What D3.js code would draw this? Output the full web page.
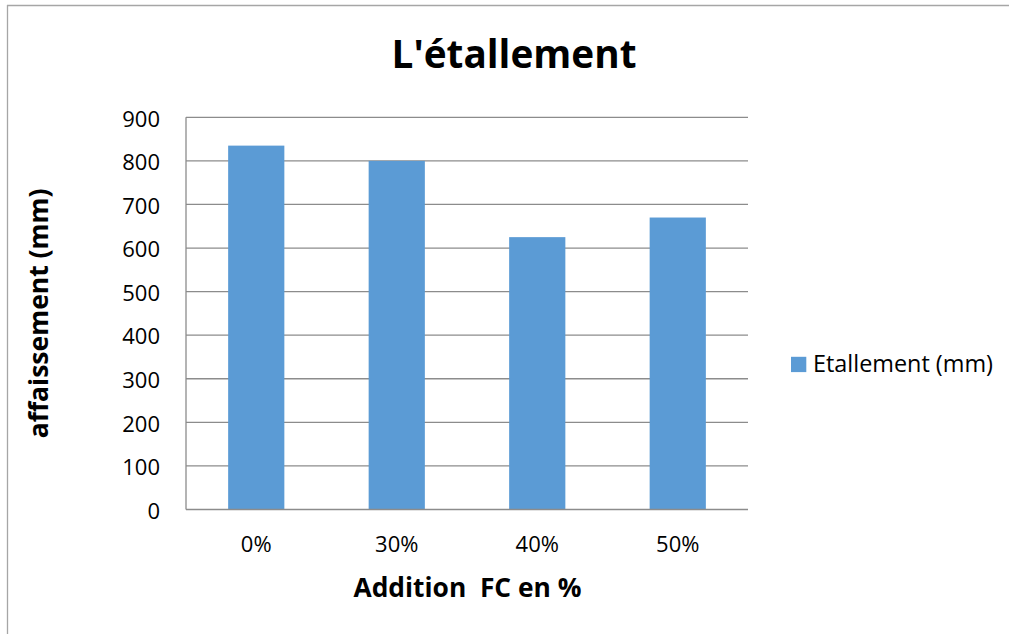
<!DOCTYPE html>
<html>
<head>
<meta charset="utf-8">
<script src="https://cdn.jsdelivr.net/npm/d3@7"></script>
<style>
  html, body { margin: 0; padding: 0; background: #fff; }
  svg { display: block; font-family: "Open Sans", "Liberation Sans", sans-serif; }
</style>
</head>
<body>
<svg id="chart" width="1009" height="634"></svg>
<script>
const categories = ["0%", "30%", "40%", "50%"];
const values = [835, 800, 625, 670];
const yTicks = [0, 100, 200, 300, 400, 500, 600, 700, 800, 900];
const seriesName = "Etallement (mm)";
const titleText = "L'étallement";
const xTitle = "Addition  FC en %";
const yTitle = "affaissement (mm)";

const svg = d3.select("#chart");
const W = 1009, H = 634;
const plot = { left: 186, right: 748, top: 117.3, bottom: 509.5 };

function fit(sel, target, base) {
  sel.style("font-size", base + "px");
  const w = sel.node().getComputedTextLength();
  sel.style("font-size", (base * target / w).toFixed(2) + "px");
}

// outer frame (top and left visible)
svg.append("line").attr("x1", 7).attr("x2", W).attr("y1", 5.5).attr("y2", 5.5)
  .attr("stroke", "#a6a6a6").attr("stroke-width", 1.3);
svg.append("line").attr("x1", 7.5).attr("x2", 7.5).attr("y1", 5).attr("y2", H)
  .attr("stroke", "#a6a6a6").attr("stroke-width", 1.3);

const x = d3.scaleBand().domain(categories).range([plot.left, plot.right])
  .paddingInner(0.6).paddingOuter(0.3);
const y = d3.scaleLinear().domain([0, 900]).range([plot.bottom, plot.top]);

// gridlines
svg.append("g").selectAll("line").data(yTicks.filter(d => d > 0)).join("line")
  .attr("x1", plot.left).attr("x2", plot.right)
  .attr("y1", d => y(d)).attr("y2", d => y(d))
  .attr("stroke", "#8c8c8c").attr("stroke-width", 1.3);

// bars
svg.append("g").selectAll("rect").data(values).join("rect")
  .attr("x", (d, i) => x(categories[i]))
  .attr("width", x.bandwidth())
  .attr("y", d => y(d))
  .attr("height", d => y(0) - y(d))
  .attr("fill", "#5b9bd5");

// axes lines
svg.append("line").attr("x1", plot.left).attr("x2", plot.left)
  .attr("y1", plot.top).attr("y2", plot.bottom)
  .attr("stroke", "#8c8c8c").attr("stroke-width", 1.3);
svg.append("line").attr("x1", plot.left).attr("x2", plot.right)
  .attr("y1", plot.bottom).attr("y2", plot.bottom)
  .attr("stroke", "#8c8c8c").attr("stroke-width", 1.3);

// y tick labels
svg.append("g").selectAll("text").data(yTicks).join("text")
  .attr("x", 160).attr("y", d => y(d) + 9.3)
  .attr("text-anchor", "end").attr("fill", "#000")
  .style("font-size", "22px")
  .text(d => d);

// x tick labels
svg.append("g").selectAll("text").data(categories).join("text")
  .attr("x", d => x(d) + x.bandwidth() / 2).attr("y", 551.7)
  .attr("text-anchor", "middle").attr("fill", "#000")
  .style("font-size", "22px")
  .text(d => d);

// title
const t = svg.append("text").attr("x", 514).attr("y", 68.3)
  .attr("text-anchor", "middle").attr("font-weight", "bold").attr("fill", "#000")
  .text(titleText);
fit(t, 245, 38);

// x title
const xt = svg.append("text").attr("x", 467.5).attr("y", 596.7)
  .attr("text-anchor", "middle").attr("font-weight", "bold").attr("fill", "#000")
  .style("white-space", "pre").attr("xml:space", "preserve")
  .text(xTitle);
fit(xt, 228, 24);

// y title
const yt = svg.append("text")
  .attr("transform", "translate(47.5," + ((plot.top + plot.bottom) / 2) + ") rotate(-90)")
  .attr("text-anchor", "middle").attr("font-weight", "bold").attr("fill", "#000")
  .text(yTitle);
fit(yt, 250, 24);

// legend
svg.append("rect").attr("x", 791).attr("y", 356.8).attr("width", 15.3).attr("height", 15.3)
  .attr("fill", "#5b9bd5");
const lt = svg.append("text").attr("x", 813).attr("y", 371.7).attr("fill", "#000")
  .text(seriesName);
fit(lt, 180, 20);
</script>
</body>
</html>
